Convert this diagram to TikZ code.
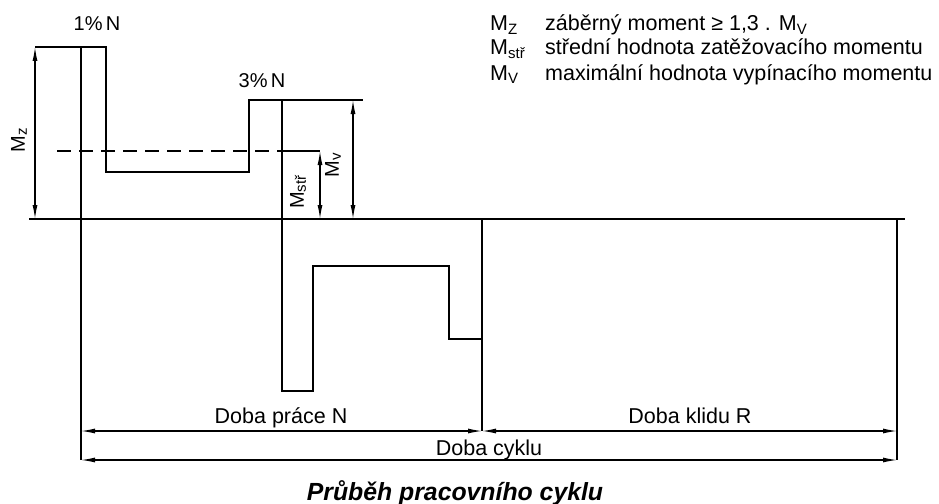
\documentclass[tikz,border=0pt]{standalone}
\usepackage{fontspec}
\setmainfont{Liberation Sans}
\usetikzlibrary{arrows.meta}
\newcommand{\lsub}[1]{\raisebox{-0.35ex}{\fontsize{15}{15}\selectfont #1}}
\newcommand{\tsub}[1]{\raisebox{-0.2ex}{\fontsize{15}{15}\selectfont #1}}

\begin{document}
\begin{tikzpicture}[x=1pt,y=-1pt]
      \tikzstyle{every node}=[inner sep=0pt]
      \tikzstyle{wave}=[line width=2.8pt,line join=miter]
      \tikzstyle{thin line}=[line width=1.2pt]
      \tikzstyle{dim}=[line width=1.2pt,{Latex[length=14pt,width=5pt]}-{Latex[length=14pt,width=5pt]}]
      \tikzstyle{big}=[font=\fontsize{21.5}{24}\selectfont]
      \tikzstyle{tech}=[font=\fontsize{20}{22}\selectfont]
      \useasboundingbox (0,0) rectangle (939,503);
      %
      \coordinate (axL)  at (29,219);
      \coordinate (axR)  at (905,219);
      \coordinate (mzT)  at (35,47);
      \coordinate (mzB)  at (35,219);
      \coordinate (st0)  at (81,219);
      \coordinate (stT)  at (81,47);
      \coordinate (stN)  at (81,431);
      \coordinate (stC)  at (81,460);
      \coordinate (dsL)  at (57,151);
      \coordinate (dsR)  at (282,151);
      \coordinate (msT)  at (320,151);
      \coordinate (msB)  at (320,219);
      \coordinate (mvL)  at (282,100);
      \coordinate (mvE)  at (363,100);
      \coordinate (mvT)  at (353,100);
      \coordinate (mvB)  at (353,219);
      \coordinate (enL)  at (482,339);
      \coordinate (enN)  at (482,431);
      \coordinate (krT)  at (897,219);
      \coordinate (krN)  at (897,431);
      \coordinate (krC)  at (897,460);
      %
      \draw[thin line] (axL) -- (axR);
      \draw[wave] (mzT) -- (stT);
      \draw[wave] (st0) -- (stT) -- (106,47) -- (106,172) -- (249,172) -- (249,100)
            -- (282,100) -- (282,391) -- (313,391) -- (313,266) -- (449,266)
            -- (449,339) -- (482,339) -- (482,219);
      % 
      \draw[thin line,dash pattern=on 14pt off 8pt] (dsL) -- (dsR);
      \draw[thin line] (dsR) -- (msT);
      \draw[thin line] (mvL) -- (mvE);
      \draw[thin line] (st0) -- (stC);
      \draw[thin line] (enL) -- (enN);
      \draw[thin line] (krT) -- (krC);
      \draw[dim] (mzT) -- (mzB);
      \draw[dim] (msT) -- (msB);
      \draw[dim] (mvT) -- (mvB);
      \draw[dim] (stN) -- (enN);
      \draw[dim] (enN) -- (krN);
      \draw[dim] (stC) -- (krC);
      %
      \node [tech] (p1)  at (97,24)  {1\%\,N};
      \node [tech] (p3)  at (262,81) {3\%\,N};
      \node [tech,rotate=90] (lz) at (19,140) {M\tsub{z}};
      \node [tech,rotate=90] (ls) at (298,192) {M\tsub{stř}};
      \node [tech,rotate=90] (lv) at (333,165) {M\tsub{v}};
      %
      \node [big,anchor=base] (prace) at (281,423) {Doba práce N};
      \node [big,anchor=base] (klid)  at (690,423) {Doba klidu R};
      \node [big,anchor=base] (cykl)  at (489,455) {Doba cyklu};
      \node [font=\fontsize{24.8}{26}\selectfont\bfseries\itshape,anchor=base] (title) at (455,500) {Průběh pracovního cyklu};
      %
      \node [big,anchor=base west] (k1) at (490,31) {M\lsub{Z}};
      \node [big,anchor=base west] (k2) at (490,55) {M\lsub{stř}};
      \node [big,anchor=base west] (k3) at (490,80) {M\lsub{V}};
      \node [big,anchor=base west] (t1) at (545,31) {záběrný moment ≥ 1,3 . M\lsub{V}};
      \node [big,anchor=base west] (t2) at (545,55) {střední hodnota zatěžovacího momentu};
      \node [big,anchor=base west] (t3) at (545,80) {maximální hodnota vypínacího momentu};
    \end{tikzpicture}
\end{document}
